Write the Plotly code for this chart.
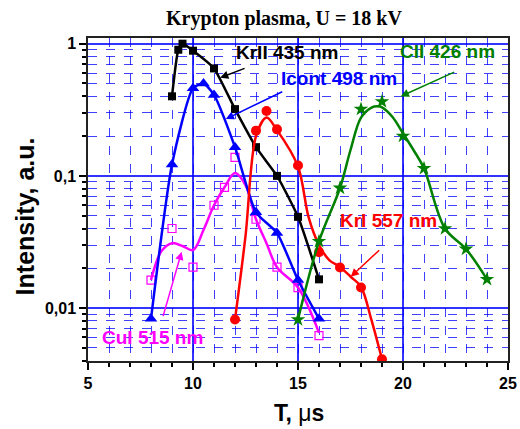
import plotly.graph_objects as go

# ---- data ----
krii_x = [9, 9.3, 9.5, 10, 11, 12, 13, 14, 15, 16]
krii_y = [0.40, 0.90, 1.0, 0.885, 0.65, 0.32, 0.165, 0.10, 0.049, 0.0165]

icont_x = [8, 9, 10, 10.5, 11, 12, 13, 14, 15, 16]
icont_y = [0.0083, 0.122, 0.46, 0.50, 0.41, 0.165, 0.053, 0.037, 0.0163, 0.0083]

cui_x = [8, 9, 10, 11, 11.5, 12, 13, 14, 15, 16]
cui_y = [0.0163, 0.040, 0.0204, 0.060, 0.082, 0.138, 0.047, 0.0204, 0.0143, 0.0062]
cui_fit_x = [8, 8.5, 9, 9.5, 10, 10.5, 11, 11.5, 12, 12.5, 13, 13.5, 14, 15, 16]
cui_fit_y = [0.0163, 0.027, 0.031, 0.0295, 0.0275, 0.039, 0.060, 0.082, 0.105, 0.085,
             0.047, 0.031, 0.0204, 0.0143, 0.0065]

kri_x = [12, 13, 13.5, 14, 15, 16, 17, 18, 19]
kri_y = [0.0082, 0.22, 0.31, 0.225, 0.12, 0.0265, 0.0203, 0.0143, 0.0041]
kri_fit_x = [12, 12.5, 13, 13.5, 14, 15, 15.5, 16, 16.5, 17, 17.5, 18, 18.5, 19]
kri_fit_y = [0.0082, 0.035, 0.20, 0.276, 0.222, 0.118, 0.049, 0.030, 0.023, 0.0205,
             0.0173, 0.0145, 0.0081, 0.0041]

cii_x = [15, 16, 17, 18, 19, 20, 21, 22, 23, 24]
cii_y = [0.0082, 0.032, 0.081, 0.32, 0.365, 0.20, 0.114, 0.040, 0.028, 0.0165]
cii_fit_x = [15, 16, 17, 17.5, 18, 18.5, 18.8, 19, 19.5, 20, 20.5, 21, 22, 23, 24]
cii_fit_y = [0.0082, 0.032, 0.081, 0.157, 0.276, 0.329, 0.336, 0.33, 0.279, 0.21,
             0.157, 0.114, 0.040, 0.028, 0.0165]

x_ticks = [5, 10, 15, 20, 25]
y_ticks = [0.01, 0.1, 1]
y_ticktext = ["0,01", "0,1", "1"]

BLACK, BLUE, MAG, RED, GREEN = "#000000", "#0000ff", "#ff00ff", "#ff0000", "#008000"
LW = 2.5

fig = go.Figure()
# CuI fit line + markers
fig.add_trace(go.Scatter(x=cui_fit_x, y=cui_fit_y, mode="lines",
                         line=dict(color=MAG, width=LW, shape="spline", smoothing=1)))
fig.add_trace(go.Scatter(x=cui_x, y=cui_y, mode="markers",
                         marker=dict(symbol="square-open", size=8, color=MAG,
                                     line=dict(width=1.2, color=MAG))))
# Icont
fig.add_trace(go.Scatter(x=icont_x, y=icont_y, mode="lines+markers",
                         line=dict(color=BLUE, width=LW, shape="spline", smoothing=0.6),
                         marker=dict(symbol="triangle-up", size=11, color=BLUE)))
# KrII
fig.add_trace(go.Scatter(x=krii_x, y=krii_y, mode="lines+markers",
                         line=dict(color=BLACK, width=LW, shape="spline", smoothing=0.5),
                         marker=dict(symbol="square", size=8, color=BLACK)))
# KrI fit + markers
fig.add_trace(go.Scatter(x=kri_fit_x, y=kri_fit_y, mode="lines",
                         line=dict(color=RED, width=LW, shape="spline", smoothing=0.9)))
fig.add_trace(go.Scatter(x=kri_x, y=kri_y, mode="markers",
                         marker=dict(symbol="circle", size=10, color=RED)))
# CII fit + markers
fig.add_trace(go.Scatter(x=cii_fit_x, y=cii_fit_y, mode="lines",
                         line=dict(color=GREEN, width=LW, shape="spline", smoothing=1)))
fig.add_trace(go.Scatter(x=cii_x, y=cii_y, mode="markers",
                         marker=dict(symbol="star", size=11, color=GREEN)))

LBL = dict(family="Liberation Sans, Arial, sans-serif", size=19, weight="bold")
annots = []
def label(text, x, ly, color):
    annots.append(dict(x=x, y=ly, xref="x", yref="y", text=text, showarrow=False,
                       font=dict(LBL, color=color), xanchor="center", yanchor="middle"))
def arrow(x, ly, ax, ay, color):
    annots.append(dict(x=x, y=ly, xref="x", yref="y", text="", showarrow=True,
                       ax=ax, ay=ay, arrowhead=2, arrowsize=1.1, arrowwidth=1.5,
                       arrowcolor=color))

label("KrII 435 nm", 14.49, -0.068, BLACK)
label("Icont 498 nm", 16.93, -0.265, BLUE)
label("CII 426 nm", 22.14, -0.061, GREEN)
label("KrI 557 nm", 19.30, -1.341, RED)
label("CuI 515 nm", 8.08, -2.22, MAG)
arrow(11.29, -0.258, 26, -10, BLACK)
arrow(11.56, -0.570, 58, -28, BLUE)
arrow(19.89, -0.399, 55, -25, GREEN)
arrow(17.51, -1.763, 30, -28, RED)
arrow(9.46, -1.573, -19, 66, MAG)

# axis titles as annotations (precise placement)
annots.append(dict(x=0.502, y=-0.161, xref="paper", yref="paper",
                   text="T, <span style='font-weight:normal'>μ</span>s",
                   showarrow=False, xanchor="center", yanchor="middle",
                   font=dict(family="Liberation Sans, Arial, sans-serif", size=23,
                             weight="bold", color="black")))
annots.append(dict(x=-0.149, y=0.449, xref="paper", yref="paper",
                   text="Intensity, a.u.", textangle=-90,
                   showarrow=False, xanchor="center", yanchor="middle",
                   font=dict(family="Liberation Sans, Arial, sans-serif", size=25,
                             weight="bold", color="black")))

W, H = 520, 429
fig.update_layout(
    width=W, height=H,
    margin=dict(l=88, r=12, t=38, b=68, autoexpand=False),
    paper_bgcolor="white", plot_bgcolor="white",
    showlegend=False,
    title=dict(text="Krypton plasma, U = 18 kV", x=284 / W, xanchor="center",
               y=1 - 18 / H, yanchor="middle",
               font=dict(family="Liberation Serif, Times New Roman, serif", size=20,
                         weight="bold", color="black")),
    annotations=annots,
    font=dict(family="Liberation Sans, Arial, sans-serif", color="black"),
)

GRID_MAJOR = "rgba(0,0,255,0.8)"
GRID_MINOR = "rgba(0,0,255,0.75)"
fig.update_xaxes(
    range=[5, 25], tickvals=x_ticks, ticks="outside", ticklen=7, tickwidth=1.5,
    tickcolor="black", automargin=False,
    tickfont=dict(size=16, weight="bold", color="black"),
    showline=True, linecolor="#222222", linewidth=1.5, mirror=True,
    showgrid=True, gridcolor=GRID_MAJOR, gridwidth=1.5,
    zeroline=False,
    minor=dict(dtick=1, ticks="outside", ticklen=4, tickcolor="black",
               showgrid=True, gridcolor=GRID_MINOR, griddash="dash", gridwidth=1),
)

minor_y = [m * 10 ** e for e in (-3, -2, -1, 0) for m in range(2, 10)]
minor_y = [v for v in minor_y if 0.0039 < v < 1.1]
fig.update_yaxes(
    type="log", range=[-2.40, 0.043], tickvals=y_ticks, ticktext=y_ticktext,
    ticks="outside", ticklen=7, tickwidth=1.5, tickcolor="black", automargin=False,
    tickfont=dict(size=16, weight="bold", color="black"),
    showline=True, linecolor="#222222", linewidth=1.5, mirror=True,
    showgrid=True, gridcolor=GRID_MAJOR, gridwidth=1.5,
    zeroline=False,
    minor=dict(tickvals=minor_y, ticks="outside", ticklen=4, tickcolor="black",
               showgrid=True, gridcolor=GRID_MINOR, griddash="dash", gridwidth=1),
)

# remove the default 8px page margin so the figure fills the window exactly
fig.write_html("out.html",
               config={"displayModeBar": False},
               post_script="document.body.style.margin='0';"
                           "document.body.style.overflow='hidden';")
